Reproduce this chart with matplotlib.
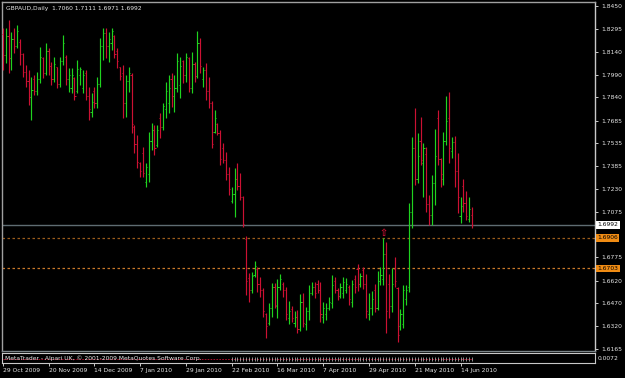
#GBPAUD daily bar chart (MetaTrader style)

import numpy as np
import matplotlib
matplotlib.use('Agg')
import matplotlib.pyplot as plt
import matplotlib.transforms as mtransforms

#Daily bars, 29 Oct 2009 .. 18 Jun 2010
opens = [1.8260, 1.8120, 1.8250, 1.8100, 1.8230, 1.8180, 1.8210, 1.8130, 1.8010, 1.7950,
         1.7840, 1.7960, 1.7880, 1.7960, 1.8100, 1.8000, 1.8150, 1.8050, 1.7960, 1.8040,
         1.7930, 1.8080, 1.8110, 1.7960, 1.7900, 1.7970, 1.7880, 1.7990, 1.7900, 1.8000,
         1.7850, 1.7740, 1.7880, 1.7800, 1.7930, 1.8180, 1.8270, 1.8180, 1.8200, 1.8250,
         1.8150, 1.8040, 1.8000, 1.7800, 1.7950, 1.7990, 1.7640, 1.7530, 1.7400, 1.7470,
         1.7280, 1.7330, 1.7550, 1.7620, 1.7520, 1.7700, 1.7640, 1.7760, 1.7800, 1.7960,
         1.7850, 1.7900, 1.7920, 1.8080, 1.7990, 1.8100, 1.7900, 1.8060, 1.7980, 1.8200,
         1.7960, 1.8020, 1.7880, 1.7800, 1.7610, 1.7660, 1.7600, 1.7500, 1.7420, 1.7330,
         1.7150, 1.7200, 1.7300, 1.7250, 1.7180, 1.6900, 1.6640, 1.6560, 1.6660, 1.6700,
         1.6600, 1.6560, 1.6400, 1.6340, 1.6440, 1.6580, 1.6450, 1.6580, 1.6600, 1.6560,
         1.6370, 1.6430, 1.6340, 1.6380, 1.6300, 1.6480, 1.6330, 1.6420, 1.6540, 1.6580,
         1.6600, 1.6560, 1.6380, 1.6400, 1.6440, 1.6470, 1.6620, 1.6560, 1.6520, 1.6540,
         1.6560, 1.6580, 1.6480, 1.6630, 1.6700, 1.6600, 1.6690, 1.6600, 1.6400, 1.6440,
         1.6560, 1.6440, 1.6620, 1.6630, 1.6800, 1.6600, 1.6450, 1.6700, 1.6570, 1.6320,
         1.6330, 1.6500, 1.6580, 1.7080, 1.7500, 1.7300, 1.7550, 1.7400, 1.7460, 1.7130,
         1.7060, 1.7270, 1.7700, 1.7430, 1.7300, 1.7550, 1.7700, 1.7480, 1.7540, 1.7350,
         1.7050, 1.7250, 1.7140, 1.7030, 1.7060]
highs = [1.8301, 1.8301, 1.8354, 1.8274, 1.8301, 1.8321, 1.8228, 1.8135, 1.8055, 1.8021,
         1.7975, 1.7988, 1.8008, 1.8174, 1.8108, 1.8201, 1.8168, 1.8075, 1.8108, 1.8041,
         1.8108, 1.8254, 1.8121, 1.8035, 1.8035, 1.7975, 1.8088, 1.8041, 1.8021, 1.8021,
         1.7908, 1.7869, 1.7908, 1.7975, 1.8234, 1.8301, 1.8301, 1.8274, 1.8301, 1.8254,
         1.8168, 1.8041, 1.8055, 1.7988, 1.8041, 1.8002, 1.7656, 1.7589, 1.7410, 1.7509,
         1.7403, 1.7609, 1.7669, 1.7656, 1.7656, 1.7736, 1.7802, 1.7942, 1.7988, 1.8002,
         1.7988, 1.8135, 1.8108, 1.8088, 1.8135, 1.8108, 1.8141, 1.8075, 1.8281, 1.8234,
         1.8041, 1.8068, 1.7975, 1.7815, 1.7756, 1.7669, 1.7623, 1.7536, 1.7476, 1.7376,
         1.7243, 1.7370, 1.7403, 1.7337, 1.7184, 1.6918, 1.6672, 1.6678, 1.6751, 1.6711,
         1.6645, 1.6572, 1.6405, 1.6472, 1.6605, 1.6605, 1.6632, 1.6665, 1.6612, 1.6578,
         1.6485, 1.6452, 1.6419, 1.6426, 1.6532, 1.6539, 1.6445, 1.6592, 1.6612, 1.6612,
         1.6625, 1.6612, 1.6479, 1.6472, 1.6512, 1.6658, 1.6645, 1.6572, 1.6605, 1.6645,
         1.6638, 1.6592, 1.6625, 1.6658, 1.6731, 1.6672, 1.6711, 1.6665, 1.6539, 1.6552,
         1.6598, 1.6685, 1.6711, 1.6904, 1.6878, 1.6665, 1.6705, 1.6778, 1.6578, 1.6432,
         1.6592, 1.6592, 1.7137, 1.7576, 1.7769, 1.7603, 1.7709, 1.7536, 1.7509, 1.7190,
         1.7323, 1.7629, 1.7756, 1.7436, 1.7609, 1.7849, 1.7875, 1.7576, 1.7583, 1.7470,
         1.7177, 1.7297, 1.7217, 1.7177, 1.7111]
lows = [1.8021, 1.8068, 1.8002, 1.8021, 1.8135, 1.8168, 1.8055, 1.7975, 1.7908, 1.7789,
        1.7689, 1.7855, 1.7855, 1.7935, 1.7968, 1.7988, 1.7988, 1.7922, 1.7942, 1.7902,
        1.7908, 1.8055, 1.7922, 1.7875, 1.7869, 1.7822, 1.7869, 1.7922, 1.7869, 1.7822,
        1.7689, 1.7709, 1.7769, 1.7769, 1.7908, 1.8088, 1.8101, 1.8075, 1.8155, 1.8101,
        1.8035, 1.7955, 1.7702, 1.7709, 1.7875, 1.7603, 1.7470, 1.7370, 1.7310, 1.7310,
        1.7243, 1.7277, 1.7490, 1.7456, 1.7509, 1.7569, 1.7623, 1.7702, 1.7736, 1.7775,
        1.7742, 1.7875, 1.7835, 1.7935, 1.7942, 1.7875, 1.7869, 1.7942, 1.7968, 1.8002,
        1.7908, 1.7822, 1.7769, 1.7503, 1.7603, 1.7589, 1.7390, 1.7403, 1.7290, 1.7190,
        1.7137, 1.7044, 1.7224, 1.7157, 1.6977, 1.6525, 1.6479, 1.6539, 1.6645, 1.6545,
        1.6512, 1.6379, 1.6239, 1.6326, 1.6379, 1.6439, 1.6372, 1.6558, 1.6512, 1.6359,
        1.6332, 1.6346, 1.6312, 1.6273, 1.6286, 1.6312, 1.6292, 1.6359, 1.6525, 1.6505,
        1.6539, 1.6346, 1.6339, 1.6359, 1.6426, 1.6439, 1.6539, 1.6492, 1.6505, 1.6505,
        1.6539, 1.6459, 1.6445, 1.6539, 1.6552, 1.6578, 1.6565, 1.6372, 1.6359, 1.6392,
        1.6412, 1.6426, 1.6592, 1.6592, 1.6273, 1.6372, 1.6412, 1.6578, 1.6213, 1.6292,
        1.6306, 1.6459, 1.6545, 1.6971, 1.7257, 1.7270, 1.7390, 1.7177, 1.7077, 1.6991,
        1.6991, 1.7124, 1.7390, 1.7243, 1.7257, 1.7523, 1.7403, 1.7436, 1.7243, 1.7071,
        1.7004, 1.7077, 1.7024, 1.7011, 1.6971]
closes = [1.8120, 1.8250, 1.8100, 1.8230, 1.8180, 1.8280, 1.8130, 1.8010, 1.7950, 1.7840,
          1.7890, 1.7880, 1.7960, 1.8110, 1.8000, 1.8150, 1.8050, 1.7960, 1.8060, 1.7930,
          1.8080, 1.8200, 1.7960, 1.7990, 1.7990, 1.7850, 1.8030, 1.8030, 1.7990, 1.7850,
          1.7760, 1.7810, 1.7800, 1.7930, 1.8180, 1.8270, 1.8180, 1.8230, 1.8280, 1.8130,
          1.8080, 1.7980, 1.7800, 1.7950, 1.8000, 1.7660, 1.7530, 1.7410, 1.7350, 1.7340,
          1.7380, 1.7550, 1.7620, 1.7500, 1.7620, 1.7640, 1.7780, 1.7880, 1.7900, 1.7850,
          1.7900, 1.8080, 1.8050, 1.7990, 1.8110, 1.7900, 1.8060, 1.7980, 1.8200, 1.8050,
          1.8020, 1.7880, 1.7800, 1.7530, 1.7700, 1.7600, 1.7430, 1.7420, 1.7330, 1.7230,
          1.7200, 1.7300, 1.7250, 1.7180, 1.7000, 1.6620, 1.6560, 1.6650, 1.6720, 1.6600,
          1.6560, 1.6420, 1.6320, 1.6440, 1.6580, 1.6460, 1.6580, 1.6630, 1.6560, 1.6400,
          1.6420, 1.6370, 1.6380, 1.6300, 1.6480, 1.6340, 1.6420, 1.6540, 1.6580, 1.6540,
          1.6560, 1.6400, 1.6440, 1.6440, 1.6480, 1.6590, 1.6560, 1.6520, 1.6580, 1.6610,
          1.6600, 1.6500, 1.6600, 1.6580, 1.6600, 1.6650, 1.6600, 1.6420, 1.6440, 1.6500,
          1.6440, 1.6620, 1.6660, 1.6800, 1.6420, 1.6450, 1.6600, 1.6620, 1.6260, 1.6400,
          1.6560, 1.6560, 1.7080, 1.7500, 1.7300, 1.7450, 1.7420, 1.7500, 1.7130, 1.7060,
          1.7270, 1.7450, 1.7430, 1.7330, 1.7550, 1.7680, 1.7500, 1.7540, 1.7350, 1.7180,
          1.7120, 1.7140, 1.7050, 1.7100, 1.6992]

date_pos = [0, 16, 32, 48, 64, 80, 96, 112, 128, 144, 160]
date_labels = ["29 Oct 2009", "20 Nov 2009", "14 Dec 2009", "7 Jan 2010", "29 Jan 2010",
               "22 Feb 2010", "16 Mar 2010", "7 Apr 2010", "29 Apr 2010", "21 May 2010",
               "14 Jun 2010"]
price_ticks = [1.8450, 1.8295, 1.8140, 1.7990, 1.7840, 1.7685, 1.7535, 1.7385, 1.7230,
               1.7075, 1.6925, 1.6775, 1.6620, 1.6470, 1.6320, 1.6165]
bid = 1.6992
levels = [1.6906, 1.6703]
arrow_bar = 133
arrow_price = 1.6935

#Colours and font.
up_col = '#1fd31f'
dn_col = '#cc1133'
txt_col = '#e8e8e8'
fs = 4.35
plt.rcParams['font.family'] = ['DejaVu Sans']

fig = plt.figure(figsize=(6.25, 3.78), dpi=100, facecolor='black')
W, H = 625.0, 378.0
ax = fig.add_axes([2/W, 1-351/H, 593/W, 349/H], facecolor='black')
ax2 = fig.add_axes([2/W, 1-363/H, 593/W, 10/H], facecolor='black')

o = np.array(opens)
h = np.array(highs)
l = np.array(lows)
c = np.array(closes)
x = np.arange(len(o))
cols = [up_col if cc >= oo else dn_col for oo, cc in zip(o, c)]

#Bars: high-low line plus open tick (left) and close tick (right).
ax.vlines(x, l, h, colors=cols, lw=0.85, zorder=3)
ax.hlines(o, x - 0.4, x, colors=cols, lw=0.7, zorder=3)
ax.hlines(c, x, x + 0.4, colors=cols, lw=0.7, zorder=3)

#Horizontal lines.
ax.axhline(bid, color='#5f6c72', lw=1.0, zorder=2)
ax.axhline(levels[0], color='#9a5c1c', lw=0.9, ls=(0, (2, 2)), zorder=2)
ax.axhline(levels[1], color='#c8782a', lw=0.9, ls=(0, (2, 2)), zorder=2)

#Arrow object above the bar.
ax.text(arrow_bar, arrow_price, '\u21e7', color=dn_col, fontsize=7, ha='center',
        va='center', fontweight='bold', zorder=4)

ax.set_xlim(-0.3, 207)
ax.set_ylim(1.6153, 1.8474)
ax.set_xticks([])
ax.yaxis.tick_right()
ax.set_yticks(price_ticks)
#1.6925 sits behind the 1.6906 box, so its label is left blank
ax.set_yticklabels(['' if v == 1.6925 else '%.4f' % v for v in price_ticks])
ax.tick_params(axis='y', colors=txt_col, length=2.5, width=0.6, labelsize=fs, pad=2)
for side, col in [('top', '#a0a0a0'), ('left', '#a0a0a0'), ('right', '#c8c8c8'),
                  ('bottom', '#7a8488')]:
    ax.spines[side].set_color(col)
    ax.spines[side].set_linewidth(1.0)

#Title.
ax.text(0.006, 0.988, 'GBPAUD,Daily  1.7060 1.7111 1.6971 1.6992', transform=ax.transAxes,
        color=txt_col, fontsize=fs, va='top', ha='left')

#Price boxes on the right scale.
trans = mtransforms.blended_transform_factory(ax.transAxes, ax.transData)
ax.text(1.004, bid, '%.4f' % bid, transform=trans, color='black', fontsize=fs,
        va='center', ha='left', zorder=6, clip_on=False,
        bbox=dict(facecolor='white', edgecolor='none', pad=0.9))
for lv in levels:
    ax.text(1.004, lv, '%.4f' % lv, transform=trans, color='black', fontsize=fs,
            va='center', ha='left', zorder=6, clip_on=False,
            bbox=dict(facecolor='#f08c14', edgecolor='none', pad=0.9))

#Indicator sub-window.
ax2.set_xlim(-0.3, 207)
ax2.set_ylim(0, 1)
ax2.hlines(0.45, 0, len(o) - 1, colors='#c01030', lw=0.6, ls=(0, (2, 1.5)))
ax2.vlines(x[80:], 0.2, 0.6, colors='#c8c8c8', lw=0.5)
ax2.text(0.005, 0.45, 'MetaTrader - Alpari UK, \u00a9 2001-2009 MetaQuotes Software Corp.',
         transform=ax2.transAxes, color=txt_col, fontsize=fs, va='center', ha='left')
ax2.text(1.004, 0.45, '0.0072', transform=ax2.transAxes, color=txt_col, fontsize=fs,
         va='center', ha='left', clip_on=False)
ax2.set_yticks([])
ax2.set_xticks(date_pos)
ax2.set_xticklabels(date_labels)
for lbl in ax2.get_xticklabels():
    lbl.set_horizontalalignment('left')
ax2.tick_params(axis='x', colors=txt_col, length=2.5, width=0.6, labelsize=fs, pad=1.2)
for side in ['top', 'left', 'right', 'bottom']:
    ax2.spines[side].set_color('#c8c8c8')
    ax2.spines[side].set_linewidth(0.8)

plt.savefig('out.png', dpi=100, facecolor='black')
